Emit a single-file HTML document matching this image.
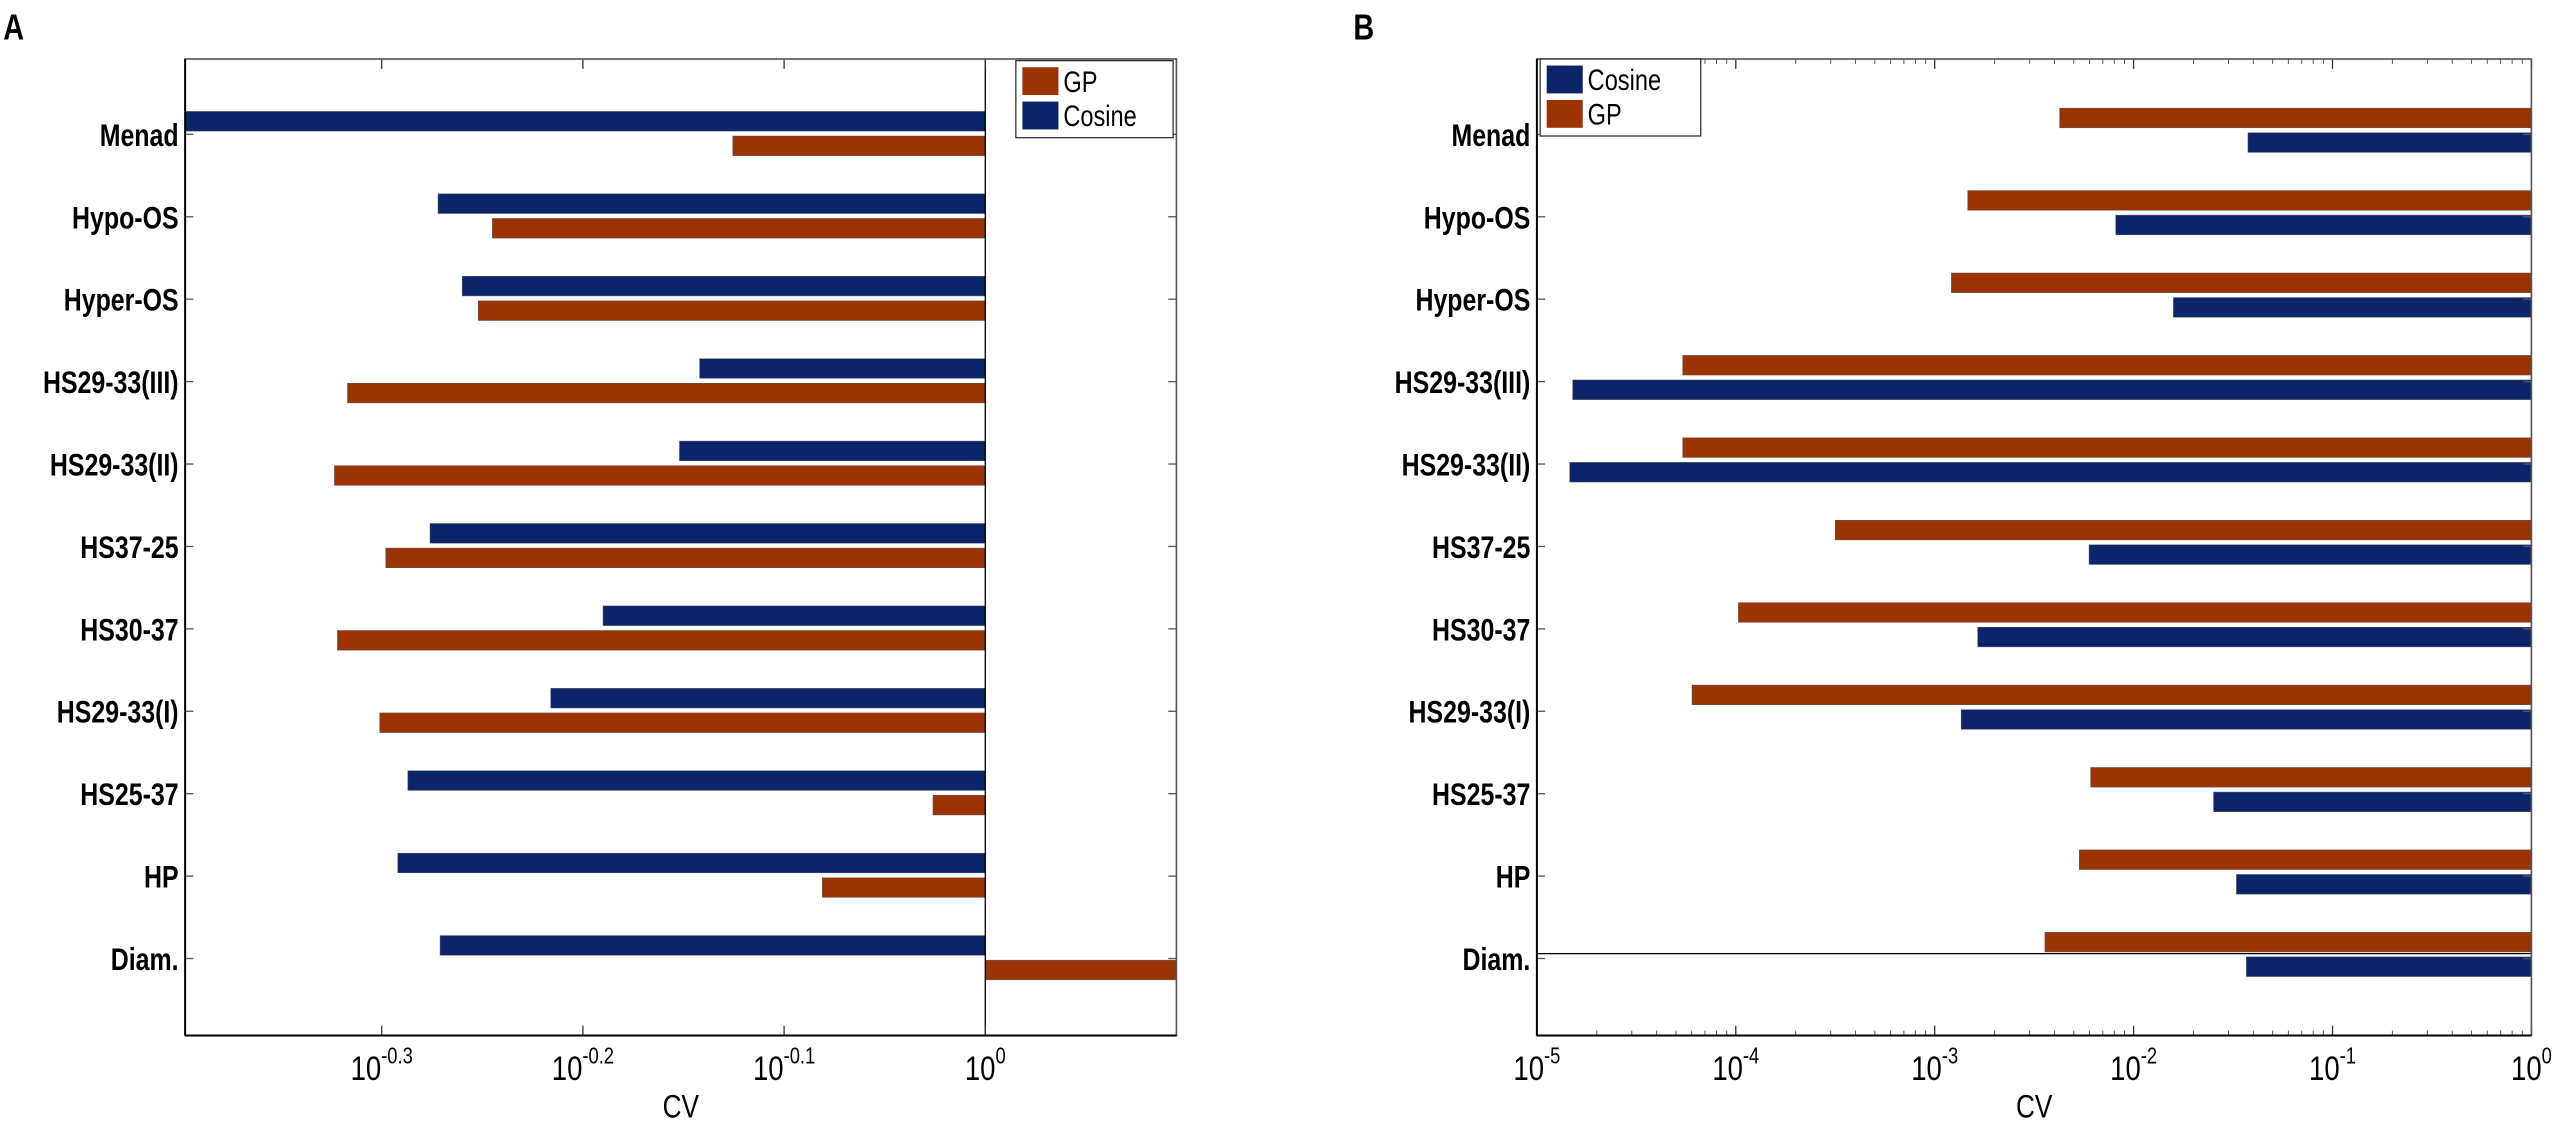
<!DOCTYPE html>
<html><head><meta charset="utf-8"><style>
html,body{margin:0;padding:0;background:#fff;}
svg{display:block;font-family:"Liberation Sans",Arial,sans-serif;}
</style></head><body>
<svg id="fig" width="2556" height="1125" viewBox="0 0 1560 686.6" xmlns="http://www.w3.org/2000/svg"></svg>
<script>
const categories = ["Menad","Hypo-OS","Hyper-OS","HS29-33(III)","HS29-33(II)","HS37-25","HS30-37","HS29-33(I)","HS25-37","HP","Diam."];
// Panel A: log10(CV)
const aCosine = [-0.45,-0.272,-0.26,-0.142,-0.152,-0.276,-0.19,-0.216,-0.287,-0.292,-0.271];
const aGP = [-0.1255,-0.245,-0.252,-0.317,-0.3235,-0.298,-0.322,-0.301,-0.026,-0.081,0.12];
const aTickVals = [-0.3,-0.2,-0.1,0];
const aTickLabels = ["-0.3","-0.2","-0.1","0"];
// Panel B: log10(CV)
const bGP = [-2.372,-2.834,-2.916,-4.267,-4.267,-3.50,-3.987,-4.22,-2.216,-2.273,-2.446];
const bCosine = [-1.425,-2.09,-1.80,-4.82,-4.835,-2.224,-2.784,-2.867,-1.598,-1.483,-1.433];
const bTickVals = [-5,-4,-3,-2,-1,0];
const bTickLabels = ["-5","-4","-3","-2","-1","0"];

const NS="http://www.w3.org/2000/svg";
const svg=document.getElementById('fig');
const BLUE="#0c2469", ORANGE="#9b3304";
function el(tag,attrs,parent){const e=document.createElementNS(NS,tag);for(const k in attrs)e.setAttribute(k,attrs[k]);(parent||svg).appendChild(e);return e;}
function txt(str,x,y,size,anchor,parent,bold){
  const g=el('g',{transform:`translate(${x},${y}) scale(0.8,1)`},parent);
  const t=el('text',{x:0,y:0,'font-size':size,'text-anchor':anchor,'font-weight':bold?'bold':'normal',fill:'#000'},g);
  t.textContent=str;return t;
}
function powLabel(exp,x,y,parent){
  const g=el('g',{transform:`translate(${x},${y}) scale(0.8,1)`},parent);
  const t=el('text',{x:0,y:0,'font-size':21,'text-anchor':'middle',fill:'#000'},g);
  const s1=document.createElementNS(NS,'tspan');s1.textContent='10';t.appendChild(s1);
  const s2=document.createElementNS(NS,'tspan');s2.setAttribute('dy','-10');s2.setAttribute('font-size','14');s2.textContent=exp;t.appendChild(s2);
  return t;
}
const plotTop=36,plotBottom=632,rowY0=82,rowStep=50.3,barH=12;
function yRow(i){return rowY0+i*rowStep;}

function panel(opt){
  const g=el('g',{});
  
  
  const L=opt.left,R=opt.right;
  const xs=v=>L+(v-opt.min)/(opt.max-opt.min)*(R-L);
  const clip=el('clipPath',{id:opt.name+'-clip'},g);
  el('rect',{x:L,y:plotTop,width:R-L,height:plotBottom-plotTop},clip);
  const bars=el('g',{'clip-path':`url(#${opt.name}-clip)`},g);
  
  
  const base=xs(opt.base);
  categories.forEach((c,i)=>{
    const y=yRow(i);
    opt.series.forEach((s,k)=>{
      const v=s.values[i];
      const x1=Math.min(xs(v),base),x2=Math.max(xs(v),base);
      const yy = (k===0 ? y-13 : y+2) + opt.barShift;
      const r=el('rect',{x:x1,y:yy,width:Math.max(0,x2-x1),height:barH,fill:s.color,stroke:'#555','stroke-width':0.3},bars);
      
      
    });
    const lab=txt(c,L-4,y+7,19,'end',g,true);
    
    
    el('line',{x1:L,x2:L+5,y1:y,y2:y,stroke:'#555','stroke-width':0.8},g);
    el('line',{x1:R,x2:R-5,y1:y,y2:y,stroke:'#555','stroke-width':0.8},g);
  });
  if(opt.zeroLine){el('line',{x1:base,x2:base,y1:plotTop,y2:plotBottom,stroke:'#000','stroke-width':0.8},g);}
  if(opt.hline!==undefined){el('line',{x1:L,x2:R,y1:yRow(opt.hline)-3,y2:yRow(opt.hline)-3,stroke:'#000','stroke-width':0.8},g);}
  if(opt.minor){
    for(let d=opt.min;d<opt.max;d++){for(let m=2;m<=9;m++){const x=xs(d+Math.log10(m));
      el('line',{x1:x,x2:x,y1:plotBottom,y2:plotBottom-3,stroke:'#555','stroke-width':0.6},g);
      el('line',{x1:x,x2:x,y1:plotTop,y2:plotTop+3,stroke:'#555','stroke-width':0.6},g);}}
  }
  opt.ticks.forEach((v,i)=>{
    const x=xs(v);
    el('line',{x1:x,x2:x,y1:plotBottom,y2:plotBottom-6,stroke:'#333','stroke-width':0.8},g);
    el('line',{x1:x,x2:x,y1:plotTop,y2:plotTop+6,stroke:'#333','stroke-width':0.8},g);
    const t=powLabel(opt.tickLabels[i],x,plotBottom+27,g);
    
    
  });
  el('rect',{x:L,y:plotTop,width:R-L,height:plotBottom-plotTop,fill:'none',stroke:'#555','stroke-width':1},g);
  el('line',{x1:L,x2:R,y1:plotBottom,y2:plotBottom,stroke:'#000','stroke-width':1.2},g);
  el('line',{x1:L,x2:L,y1:plotTop,y2:plotBottom,stroke:'#000','stroke-width':1.2},g);
  const xt=txt('CV',(L+R)/2,plotBottom+50,20,'middle',g,false);
  
  
  const pl=txt(opt.letter,opt.letterX,24,22,'start',g,true);
  
  
  const lg=el('g',{},g);
  
  
  el('rect',{x:opt.legX,y:opt.legY,width:opt.legW,height:47,fill:'#fff',stroke:'#333','stroke-width':0.8},lg);
  opt.legend.forEach((s,k)=>{
    const yy=opt.legY+4+k*21;
    const e=el('g',{},lg);
    
    
    el('rect',{x:opt.legX+4,y:yy,width:22,height:17,fill:s.color},e);
    txt(s.label,opt.legX+29,yy+15,18,'start',e,false);
  });
}

panel({name:'panel-a',letter:'A',letterX:2,left:113,right:718,min:-0.3977,max:0.095,base:0,zeroLine:true,barShift:-1,
  series:[{key:'cosine',values:aCosine,color:BLUE},{key:'gp',values:aGP,color:ORANGE}],
  ticks:aTickVals,tickLabels:aTickLabels,minor:false,
  legend:[{key:'gp',label:'GP',color:ORANGE},{key:'cosine',label:'Cosine',color:BLUE}],
  legX:620,legY:37,legW:96});
panel({name:'panel-b',letter:'B',letterX:826,left:938,right:1545,min:-5,max:0,base:0,zeroLine:false,hline:10,barShift:-3,
  series:[{key:'gp',values:bGP,color:ORANGE},{key:'cosine',values:bCosine,color:BLUE}],
  ticks:bTickVals,tickLabels:bTickLabels,minor:true,
  legend:[{key:'cosine',label:'Cosine',color:BLUE},{key:'gp',label:'GP',color:ORANGE}],
  legX:940,legY:36,legW:98});
</script>
</body></html>
